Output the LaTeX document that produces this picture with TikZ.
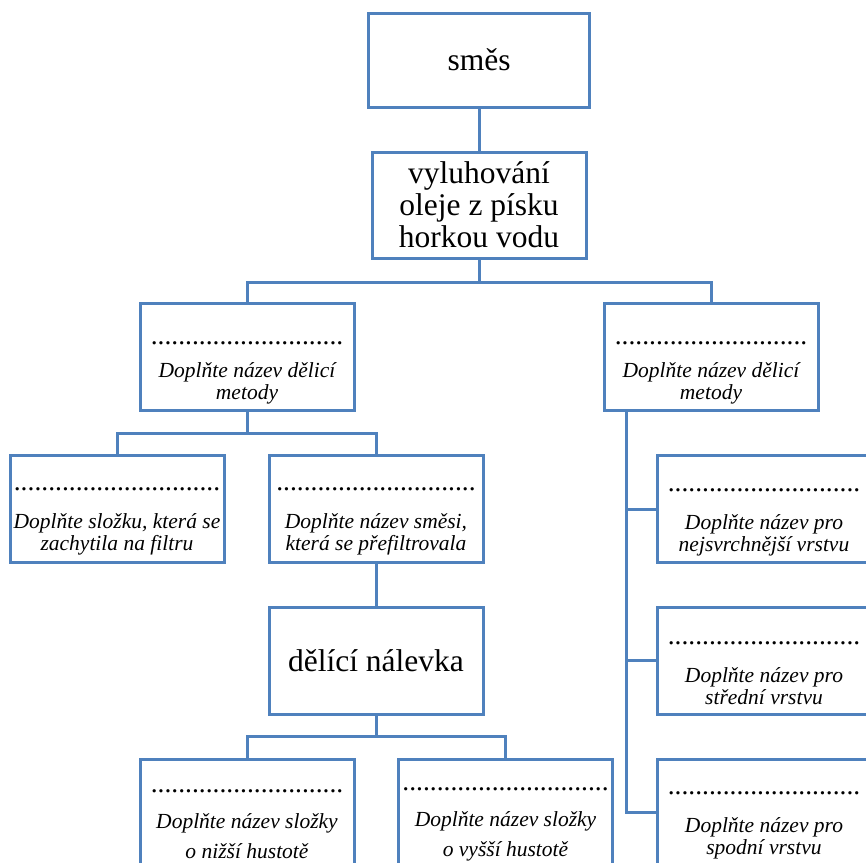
\documentclass[tikz,border=0pt]{standalone}
\usepackage{fontspec}
\setmainfont{Liberation Serif}
\usepackage{xcolor}
\usetikzlibrary{calc}
\definecolor{modra}{RGB}{79,129,189}
\newcommand{\tecky}[1]{{\fontsize{27.5}{22}\selectfont\upshape\foreach\k in {1,...,#1}{.}}}

\begin{document}
\begin{tikzpicture}[x=1pt, y=-1pt,
  box/.style={draw=modra, line width=3pt, minimum width=214pt, minimum height=107pt,
              inner sep=2pt, align=center, fill=white},
  hlavni/.style={box, font=\fontsize{31.5}{32}\selectfont},
  doplnit/.style={box, font=\fontsize{21.5}{22}\selectfont\itshape},
  spoj/.style={draw=modra, line width=3pt}
]
  \useasboundingbox (0,0) rectangle (866,862);

  % Nodes
  \node[hlavni, minimum width=221pt, minimum height=94pt] (smes) at (479,60) {směs};
  \node[hlavni, minimum height=106pt] (vyluh) at (479,205) {vyluhování\\oleje z písku\\horkou vodu};
  \node[doplnit] (metodaL) at (247,356.5) {\rule{0pt}{36pt}\tecky{28}\\[11pt]Doplňte název dělicí\\metody};
  \node[doplnit] (metodaR) at (711,356.5) {\rule{0pt}{36pt}\tecky{28}\\[11pt]Doplňte název dělicí\\metody};
  \node[doplnit] (filtr) at (117,508.5) {\rule{0pt}{29pt}\tecky{30}\\[16pt]Doplňte složku, která se\\zachytila na filtru};
  \node[doplnit] (filtrat) at (376,508.5) {\rule{0pt}{29pt}\tecky{29}\\[16pt]Doplňte název směsi,\\která se přefiltrovala};
  \node[hlavni] (nalevka) at (376,660.5) {dělící nálevka};
  \node[doplnit] (lehci) at (247,812.5) {\rule{0pt}{27pt}\tecky{28}\\[14pt]Doplňte název složky\\[8pt]o nižší hustotě};
  \node[doplnit] (tezsi) at (505.5,812.5) {\rule{0pt}{27pt}\tecky{30}\\[14pt]Doplňte název složky\\[8pt]o vyšší hustotě};
  \node[doplnit] (vrstva1) at (764,509) {\rule{0pt}{29pt}\tecky{28}\\[16pt]Doplňte název pro\\nejsvrchnější vrstvu};
  \node[doplnit] (vrstva2) at (764,660.5) {\rule{0pt}{29pt}\tecky{28}\\[16pt]Doplňte název pro\\střední vrstvu};
  \node[doplnit] (vrstva3) at (764,812.5) {\rule{0pt}{29pt}\tecky{28}\\[16pt]Doplňte název pro\\spodní vrstvu};

  % Bus points
  \coordinate (bus1) at (479,282);
  \coordinate (bus2) at (247,433);
  \coordinate (bus3) at (376,736);
  \coordinate (osa) at (626,0);

  % Connectors
  \draw[spoj] (smes) -- (vyluh);
  \draw[spoj] (vyluh.south) -- (bus1);
  \draw[spoj] (metodaL.north) |- (bus1) -| (metodaR.north);
  \draw[spoj] (metodaL.south) -- (bus2);
  \draw[spoj] (filtr.north) |- (bus2) -| (filtrat.north);
  \draw[spoj] (filtrat) -- (nalevka);
  \draw[spoj] (nalevka.south) -- (bus3);
  \draw[spoj] (lehci.north) |- (bus3) -| (tezsi.north);
  \draw[spoj] (metodaR.south -| osa) |- (vrstva3.west);
  \draw[spoj] (vrstva1.west -| osa) -- (vrstva1.west);
  \draw[spoj] (vrstva2.west -| osa) -- (vrstva2.west);
\end{tikzpicture}
\end{document}
